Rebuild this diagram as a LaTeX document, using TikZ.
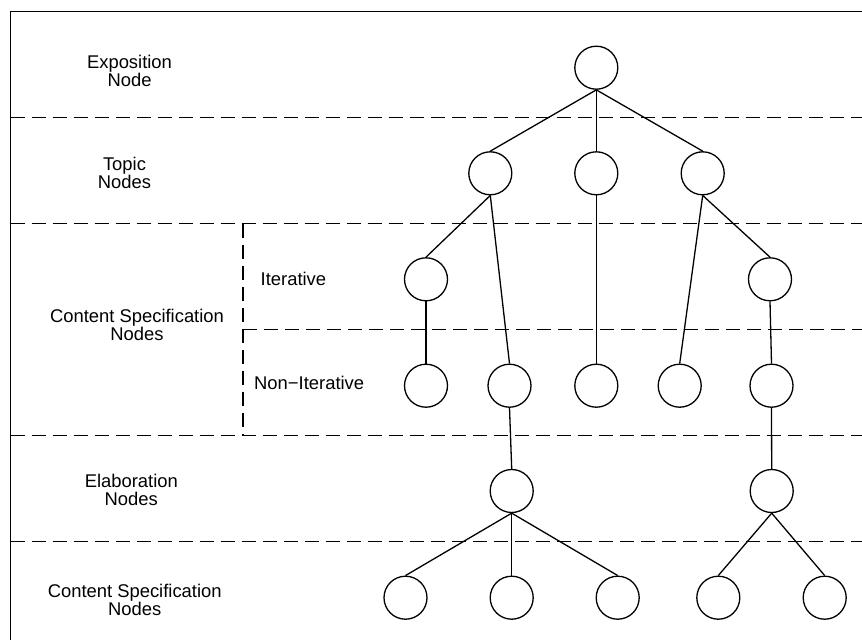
\documentclass[tikz,border=0pt]{standalone}
\usepackage{fontspec}
\setmainfont{Liberation Sans}
\begin{document}
\begin{tikzpicture}[x=1pt,y=-1pt,
  nd/.style={circle,draw,line width=1.3pt,minimum size=43pt,inner sep=0pt},
  lbl/.style={align=center,font=\fontsize{18.4}{18.5}\selectfont,inner sep=0pt},
  sep/.style={line width=1.3pt,dash pattern=on 14pt off 7pt},
  edge/.style={line width=1.3pt}]
\useasboundingbox (0,0) rectangle (862,640);
% frame
\coordinate (fr) at (862,11.5);
\coordinate (fc) at (10.5,11.5);
\coordinate (fb) at (10.5,640);
\draw[edge] (fr) -- (fc) -- (fb);
% separators
\coordinate (s1a) at (10.5,117.5); \coordinate (s1b) at (862,117.5);
\coordinate (s2a) at (10.5,223.5); \coordinate (s2b) at (862,223.5);
\coordinate (s3a) at (243,329.5); \coordinate (s3b) at (862,329.5);
\coordinate (s4a) at (10.5,435.5); \coordinate (s4b) at (862,435.5);
\coordinate (s5a) at (10.5,541.5); \coordinate (s5b) at (862,541.5);
\coordinate (va) at (243,223.5); \coordinate (vb) at (243,435.5);
\draw[sep] (s1a) -- (s1b);
\draw[sep] (s2a) -- (s2b);
\draw[sep] (s3a) -- (s3b);
\draw[sep] (s4a) -- (s4b);
\draw[sep] (s5a) -- (s5b);
\draw[sep] (va) -- (vb);
% labels
\node[lbl] (l1) at (129.5,71) {Exposition\\Node};
\node[lbl] (l2) at (124.5,173) {Topic\\Nodes};
\node[lbl] (l3) at (137,325) {Content Specification\\Nodes};
\node[lbl,anchor=west] (l4) at (260.5,279) {Iterative};
\node[lbl,anchor=west] (l5) at (254,383) {Non\textminus Iterative};
\node[lbl] (l6) at (131.3,490) {Elaboration\\Nodes};
\node[lbl] (l7) at (134.7,600) {Content Specification\\Nodes};
% tree nodes
\node[nd] (e) at (596.3,67.7) {};
\node[nd] (t1) at (490.3,173.3) {};
\node[nd] (t2) at (596.3,173.3) {};
\node[nd] (t3) at (702.7,173.3) {};
\node[nd] (i1) at (426,279.3) {};
\node[nd] (i2) at (770,279.3) {};
\node[nd] (n1) at (426,385.7) {};
\node[nd] (n2) at (509.5,385.7) {};
\node[nd] (n3) at (596.3,385.7) {};
\node[nd] (n4) at (679.7,385.7) {};
\node[nd] (n5) at (771.5,385.7) {};
\node[nd] (el1) at (511.7,491) {};
\node[nd] (el2) at (771.7,491) {};
\node[nd] (b1) at (405.5,597.7) {};
\node[nd] (b2) at (511.7,597.7) {};
\node[nd] (b3) at (617.7,597.7) {};
\node[nd] (b4) at (718.3,597.7) {};
\node[nd] (b5) at (824.7,597.7) {};
% edges
\draw[edge] (e.south) -- (t1.north);
\draw[edge] (e.south) -- (t2.north);
\draw[edge] (e.south) -- (t3.north);
\draw[edge] (t1.south) -- (i1.north);
\draw[edge] (t1.south) -- (n2.north);
\draw[edge] (t2.south) -- (n3.north);
\draw[edge] (t3.south) -- (n4.north);
\draw[edge] (t3.south) -- (i2.north);
\draw[edge] (i1.south) -- (n1.north);
\draw[edge] (i2.south) -- (n5.north);
\draw[edge] (n2.south) -- (el1.north);
\draw[edge] (n5.south) -- (el2.north);
\draw[edge] (el1.south) -- (b1.north);
\draw[edge] (el1.south) -- (b2.north);
\draw[edge] (el1.south) -- (b3.north);
\draw[edge] (el2.south) -- (b4.north);
\draw[edge] (el2.south) -- (b5.north);
\end{tikzpicture}
\end{document}
